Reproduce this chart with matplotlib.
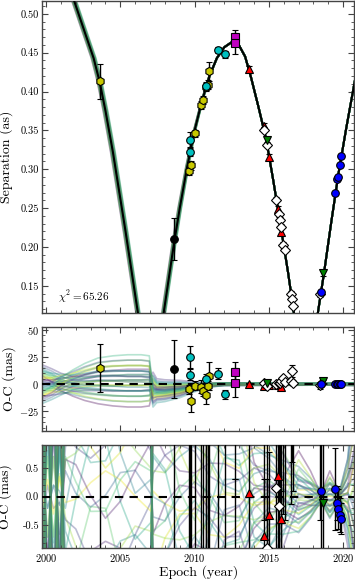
import matplotlib.pyplot as plt
import numpy as np

plt.rcParams['font.family'] = 'serif'
plt.rcParams['font.serif'] = ['cmr10', 'DejaVu Serif']
plt.rcParams['mathtext.fontset'] = 'cm'
plt.rcParams['axes.formatter.use_mathtext'] = True

# ---- data ----
# best-fit orbit, separation (as)
model_epoch = [2001.5, 2001.884, 2002.7, 2003.2, 2003.6, 2004.0, 2004.5, 2005.35, 2006.2,
               2007.05, 2007.9, 2008.6, 2009.0, 2009.5, 2010.0, 2010.5, 2011.0, 2011.5,
               2012.0, 2012.5, 2013.0, 2013.4, 2013.8, 2014.3, 2014.8, 2015.3, 2015.8,
               2016.3, 2016.7, 2017.5, 2018.28, 2018.7, 2019.2, 2019.7, 2020.2, 2020.8]
model_sep = [0.540, 0.517, 0.471, 0.443, 0.413, 0.375, 0.322, 0.220, 0.113,
             0.020, 0.113, 0.203, 0.250, 0.303, 0.350, 0.388, 0.420, 0.443,
             0.457, 0.4635, 0.459, 0.445, 0.418, 0.380, 0.340, 0.285, 0.226,
             0.166, 0.113, 0.020, 0.113, 0.165, 0.232, 0.296, 0.352, 0.415]
halo_dt = [0.15, 0.15, 0.15, 0.15, 0.15, 0.15, 0.15, 0.14, 0.13,
           0.12, 0.12, 0.12, 0.11, 0.09, 0.06, 0.04, 0.02, 0.01,
           0, 0, 0, 0, 0, 0, 0, 0, 0,
           0, 0, 0, 0, 0, 0, 0, 0, 0]

# yellow hexagons
yel_epoch = [2003.63, 2009.64, 2009.76, 2010.05, 2010.45, 2010.54, 2010.74, 2010.87, 2010.99]
yel_sep = [0.413, 0.298, 0.305, 0.346, 0.383, 0.389, 0.406, 0.409, 0.426]
yel_sep_err = [0.022, 0.005, 0.006, 0.005, 0.005, 0.005, 0.005, 0.006, 0.012]
yel_oc = [15.2, -4.6, -15.5, -1.5, -2.4, -6.1, -10.0, -1.5, 7.3]
yel_oc_err = [22, 4, 10, 4, 6, 5, 8, 4, 13]
yel_oc2 = [5, 4, -4, 5, -5, 4, -4, 5, 4]
yel_oc2_err = [9, 8, 8, 9, 9, 8, 8, 9, 8]

# cyan circles
cyan_epoch = [2009.69, 2009.69, 2010.74, 2011.6, 2012.05]
cyan_sep = [0.338, 0.322, 0.407, 0.4536, 0.4477]
cyan_sep_err = [0.010, 0.005, 0.005, 0.004, 0.004]
cyan_oc = [24.6, 8.8, 4.6, 9.7, -9.4]
cyan_oc_err = [10, 5, 5, 5, 4]
cyan_oc2 = [4, -5, 5, 4, -4]
cyan_oc2_err = [8, 9, 9, 8, 8]

# black circle
blk_epoch = [2008.61]
blk_sep = [0.210]
blk_sep_err = [0.027]
blk_oc = [13.7]
blk_oc_err = [26.5]
blk_oc2 = [4]
blk_oc2_err = [8]

# magenta squares
mag_epoch = [2012.72, 2012.72]
mag_sep = [0.4705, 0.4618]
mag_sep_err = [0.009, 0.014]
mag_oc = [11.2, 1.5]
mag_oc_err = [9, 13.5]
mag_oc2 = [2.5, -2.0]
mag_oc2_err = [2.2, 2.3]

# red triangles
red_epoch = [2013.63, 2014.65, 2015.0, 2015.6, 2015.8]
red_sep = [0.429, 0.356, 0.316, 0.249, 0.219]
red_sep_err = [0.004, 0.004, 0.004, 0.004, 0.004]
red_oc = [0.0, -1.5, -1.0, -1.0, -2.5]
red_oc_err = [1.5, 1.5, 1.5, 1.5, 1.5]
red_oc2 = [0.07, -0.69, -0.32, 0.36, -0.38]
red_oc2_err = [1.5, 1.0, 1.1, 1.5, 1.5]

# white diamonds
wd_epoch = [2014.7, 2014.87, 2015.5, 2015.68, 2015.72, 2015.8, 2015.97, 2016.1,
            2016.5, 2016.55, 2016.64, 2018.44]
wd_sep = [0.351, 0.331, 0.261, 0.242, 0.235, 0.226, 0.203, 0.196, 0.140, 0.133, 0.124, 0.139]
wd_sep_err = [0.003] * 12
wd_oc = [0.6, -1.3, -0.3, 0.8, 1.5, 2.7, 5.2, 2.1, 3.3, 11.9, 1.0, -1.2]
wd_oc_err = [1.5, 1.5, 1.5, 1.5, 1.5, 1.5, 1.5, 1.5, 1.5, 5.5, 1.5, 3.0]
wd_oc2 = [1.6, -0.9, 0.16, -0.155, 1.8, -1.9, 1.7, 1.4, 1.3, 2.2, 1.9, 2.4]
wd_oc2_err = [2.0, 1.2, 1.6, 1.6, 2.0, 2.0, 2.0, 1.8, 1.43, 1.6, 1.8, 2.8]

# green down triangles
grn_epoch = [2014.85, 2018.64]
grn_sep = [0.338, 0.166]
grn_sep_err = [0.003, 0.003]
grn_oc = [1.0, 2.5]
grn_oc_err = [1.5, 1.5]
grn_oc2 = [1.5, -0.11]
grn_oc2_err = [2.5, 1.2]

# blue circles
blu_epoch = [2018.48, 2019.47, 2019.6, 2019.65, 2019.78, 2019.87]
blu_sep = [0.142, 0.269, 0.288, 0.290, 0.306, 0.317]
blu_sep_err = [0.002] * 6
blu_oc = [0.0, 0.3, 0.0, -0.3, 0.0, 0.2]
blu_oc_err = [0.5] * 6
blu_oc2 = [0.10, 0.13, -0.11, -0.21, -0.32, -0.38]
blu_oc2_err = [1.5, 0.71, 0.30, 0.35, 0.30, 0.27]

# posterior sample curves (residual shapes)
sample_w = [-1.0, -0.65, -0.3, 0.05, 0.3, 0.65, 1.0]
sample_s = [-1.0, -0.5, 0.0, 0.5, 1.0]

mid_t = [1999.7, 2000.4, 2001.0, 2001.8, 2002.6, 2003.5, 2004.5, 2005.5, 2006.4, 2006.95,
         2007.2, 2007.45, 2008.0, 2009.0, 2010.0, 2011.0, 2012.0, 2013.5, 2016.0, 2019.0, 2020.8]
mid_a = [5, 6, 8, 9, 11, 13, 14, 14, 14, 13, 8, 5, 5, 4, 2.5, 1.5, 1.2, 1.1, 1.0, 0.9, 1.2]
mid_b = [-13, -8, -2, 3, 6, 8, 9, 10, 10, 10, -8, -6, -5, -4, -2, -0.6, 0, 0, 0, 0, 0]
mid_off = [0, 0, 0, 1, 2, 3, 3, 3, 3, 3, -5, -6, -6, -4.5, -2.5, -0.8, 0, 0, 0, 0, 0]

bot_t = [1999.7, 2000.1, 2000.5, 2000.9, 2001.3, 2002.0, 2003.0, 2004.0, 2005.0, 2006.0,
         2007.05, 2007.2, 2008.0, 2009.0, 2010.0, 2011.0, 2012.0, 2013.0, 2014.0, 2015.0,
         2016.0, 2017.0, 2017.8, 2018.5, 2019.1, 2019.8, 2020.3, 2020.8]
bot_a = [5, -4, 4, -3, 3.0, 3.2, 3.4, 3.5, 3.4, 3.2, 3.0, -3.0, -2.4, -2.0, -1.8, -1.7,
         -1.5, -1.3, -1.0, -0.8, -0.6, -0.45, -0.3, -0.1, -0.3, -0.1, -0.45, -1.3]
bot_b = [1.0, -1.0, 1.0, -1.0, 0.8, 0.3, -0.5, -0.7, 0.0, 0.6, 0.7, -0.7, -0.3, 0.4, 0.6,
         0.0, -0.5, -0.4, 0.3, 0.4, 0.1, -0.25, -0.1, 0.05, -0.1, 0.05, 0.3, 0.8]
bot_c = [0.0, 0.0, 0.0, 0.0, -0.6, 0.2, 0.7, 0.3, -0.5, -0.6, 0.2, 0.4, 0.6, -0.2, -0.7,
         -0.3, 0.5, 0.6, -0.2, -0.5, -0.3, 0.2, 0.1, 0.0, 0.1, 0.0, -0.2, 0.4]

groups = [
    (yel_epoch, yel_sep, yel_sep_err, yel_oc, yel_oc_err, yel_oc2, yel_oc2_err, 'h', '#c8c800', 6),
    (cyan_epoch, cyan_sep, cyan_sep_err, cyan_oc, cyan_oc_err, cyan_oc2, cyan_oc2_err, 'o', '#00c0c0', 5.5),
    (blk_epoch, blk_sep, blk_sep_err, blk_oc, blk_oc_err, blk_oc2, blk_oc2_err, 'o', 'k', 5.5),
    (mag_epoch, mag_sep, mag_sep_err, mag_oc, mag_oc_err, mag_oc2, mag_oc2_err, 's', '#c000c0', 5.5),
    (red_epoch, red_sep, red_sep_err, red_oc, red_oc_err, red_oc2, red_oc2_err, '^', '#ff0000', 5.5),
    (wd_epoch, wd_sep, wd_sep_err, wd_oc, wd_oc_err, wd_oc2, wd_oc2_err, 'D', 'white', 5.5),
    (grn_epoch, grn_sep, grn_sep_err, grn_oc, grn_oc_err, grn_oc2, grn_oc2_err, 'v', '#008000', 5.5),
    (blu_epoch, blu_sep, blu_sep_err, blu_oc, blu_oc_err, blu_oc2, blu_oc2_err, 'o', '#0000ff', 5.5),
]

# ---- figure ----
fig = plt.figure(figsize=(3.55, 5.82), dpi=100)
left, width = 0.1197, 0.8775
ax1 = fig.add_axes([left, 0.4622, width, 0.5368])
ax2 = fig.add_axes([left, 0.2595, width, 0.1787])
ax3 = fig.add_axes([left, 0.0576, width, 0.1778])

pairs = [(w, s) for w in sample_w for s in sample_s]
n = len(pairs)
cols = [plt.cm.viridis(((i * 13) % n) / (n - 1)) for i in range(n)]

for i, (w, s) in enumerate(pairs):
    dt = (0.7 * w + 0.3 * s) * np.array(halo_dt)
    ax1.plot(np.array(model_epoch) + dt, model_sep, color=cols[i], alpha=0.35, lw=1.4, zorder=1)
    ax2.plot(mid_t, w * np.array(mid_a) + s * np.array(mid_b) + np.array(mid_off),
             color=cols[i], alpha=0.35, lw=1.2, zorder=1)
    ax3.plot(bot_t, w * np.array(bot_a) + s * np.array(bot_b) + (s * s - 0.5) * np.array(bot_c),
             color=cols[i], alpha=0.35, lw=1.2, zorder=1)

ax1.plot(model_epoch, model_sep, color='k', lw=1.5, zorder=3)
ax2.axhline(0, color='k', lw=1.5, ls=(0, (4, 3)), zorder=3)
ax3.axhline(0, color='k', lw=1.5, ls=(0, (4, 3)), zorder=3)

for ep, sep, sep_e, oc, oc_e, oc2, oc2_e, mk, fc, ms in groups:
    kw = dict(fmt=mk, mfc=fc, mec='k', mew=0.8, ms=ms, ecolor='k',
              elinewidth=1, capsize=2, capthick=1, zorder=5)
    ax1.errorbar(ep, sep, yerr=sep_e, **kw)
    ax2.errorbar(ep, oc, yerr=oc_e, **kw)
    ax3.errorbar(ep, oc2, yerr=oc2_e, **kw)

ax1.text(2000.8, 0.136, r'$\chi^2 = 65.26$', fontsize=8, va='center')

for ax in (ax1, ax2, ax3):
    ax.set_xlim(1999.76, 2020.73)
    ax.set_xticks([2000, 2005, 2010, 2015, 2020])
    ax.set_xticks(np.arange(2000, 2021), minor=True)
    ax.tick_params(which='both', direction='in', top=True, right=True,
                   labelsize=7.5, color='#444444', pad=2.5)
    ax.tick_params(which='major', length=4)
    ax.tick_params(which='minor', length=2)
    for sp in ax.spines.values():
        sp.set_color('#444444')
        sp.set_linewidth(1.0)

ax1.set_ylim(0.115, 0.517)
ax1.set_yticks([0.15, 0.20, 0.25, 0.30, 0.35, 0.40, 0.45, 0.50])
ax1.set_yticks(np.arange(0.12, 0.52, 0.01), minor=True)
ax1.yaxis.set_major_formatter(plt.FormatStrFormatter('%.2f'))
ax1.set_ylabel('Separation (as)', fontsize=10)
ax1.yaxis.set_label_coords(-0.096, 0.5)

ax2.set_ylim(-43, 52.5)
ax2.set_yticks([-25, 0, 25, 50])
ax2.set_yticks(np.arange(-40, 55, 5), minor=True)
ax2.set_ylabel('O-C (mas)', fontsize=10)
ax2.yaxis.set_label_coords(-0.085, 0.5)

ax3.set_ylim(-0.9, 0.9)
ax3.set_yticks([-0.5, 0.0, 0.5])
ax3.set_yticks(np.arange(-0.9, 0.95, 0.1), minor=True)
ax3.yaxis.set_major_formatter(plt.FormatStrFormatter('%.1f'))
ax3.set_ylabel('O-C (mas)', fontsize=10)
ax3.yaxis.set_label_coords(-0.097, 0.5)
ax3.set_xlabel('Epoch (year)', fontsize=10, labelpad=1)

ax1.tick_params(labelbottom=False)
ax2.tick_params(labelbottom=False)

fig.savefig('out.png', dpi=100)
